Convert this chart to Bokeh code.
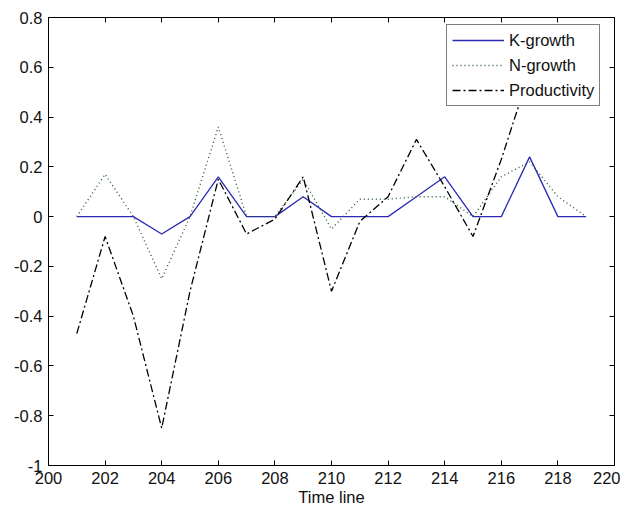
from bokeh.plotting import figure
from bokeh.models import (Range1d, LinearAxis, FixedTicker, Legend, LegendItem)
from bokeh.embed import file_html
from bokeh.resources import INLINE

# ---- data ----
years = [201, 202, 203, 204, 205, 206, 207, 208, 209, 210,
         211, 212, 213, 214, 215, 216, 217, 218, 219]
k_growth = [0.0, 0.0, 0.0, -0.07, 0.0, 0.16, 0.0, 0.0, 0.08, 0.0,
            0.0, 0.0, 0.08, 0.16, 0.0, 0.0, 0.24, 0.0, 0.0]
n_growth = [0.0, 0.17, 0.0, -0.25, 0.0, 0.36, 0.0, 0.0, 0.15, -0.05,
            0.07, 0.07, 0.08, 0.08, 0.0, 0.16, 0.22, 0.08, 0.0]
prod_years = [201, 202, 203, 204, 205, 206, 207, 208, 209, 210,
              211, 212, 213, 214, 215, 216, 217]
productivity = [-0.47, -0.08, -0.40, -0.85, -0.30, 0.15, -0.07, -0.01, 0.16, -0.30,
                -0.02, 0.08, 0.31, 0.12, -0.08, 0.23, 0.58]

x_ticks = [200, 202, 204, 206, 208, 210, 212, 214, 216, 218, 220]
x_tick_labels = ["200", "202", "204", "206", "208", "210", "212", "214", "216", "218", "220"]
y_ticks = [-1.0, -0.8, -0.6, -0.4, -0.2, 0.0, 0.2, 0.4, 0.6, 0.8]
y_tick_labels = ["-1", "-0.8", "-0.6", "-0.4", "-0.2", "0", "0.2", "0.4", "0.6", "0.8"]
series_names = ["K-growth", "N-growth", "Productivity"]
x_label = "Time line"

FONT = "Liberation Sans"
TICK_FS = "16.5px"

p = figure(width=620, height=512, output_backend="svg", toolbar_location=None,
           x_range=Range1d(200, 220), y_range=Range1d(-1, 0.8),
           min_border_left=48, min_border_right=6, min_border_top=17, min_border_bottom=47,
           x_axis_type=None, y_axis_type=None)
p.grid.visible = False
p.outline_line_color = "black"
p.outline_line_width = 1
p.background_fill_color = "white"
p.border_fill_color = "white"


def style_axis(ax, ticks, labels, show_labels):
    ax.ticker = FixedTicker(ticks=ticks)
    if show_labels:
        ax.major_label_overrides = {t: l for t, l in zip(ticks, labels)}
    else:
        ax.major_label_overrides = {t: "" for t in ticks}
    ax.major_tick_in = 5
    ax.major_tick_out = 0
    ax.minor_tick_line_color = None
    ax.axis_line_color = None
    ax.major_tick_line_color = "black"
    ax.major_label_text_font = FONT
    ax.major_label_text_font_size = TICK_FS
    ax.major_label_text_color = "#111111"


xb = LinearAxis()
style_axis(xb, x_ticks, x_tick_labels, True)
xb.major_label_standoff = 6
xb.axis_label = x_label
xb.axis_label_text_font = FONT
xb.axis_label_text_font_size = TICK_FS
xb.axis_label_text_font_style = "normal"
xb.axis_label_text_color = "#111111"
xb.axis_label_standoff = 1
p.add_layout(xb, "below")

yl = LinearAxis()
style_axis(yl, y_ticks, y_tick_labels, True)
yl.major_label_standoff = 6
p.add_layout(yl, "left")

xt = LinearAxis()
style_axis(xt, x_ticks, x_tick_labels, False)
xt.major_label_standoff = 0
p.add_layout(xt, "above")

yr = LinearAxis()
style_axis(yr, y_ticks, y_tick_labels, False)
yr.major_label_standoff = 0
p.add_layout(yr, "right")

r_k = p.line(years, k_growth, line_color="#2a2ab4", line_width=1.3)
r_n = p.line(years, n_growth, line_color="#2f5a2f", line_width=1.4, line_dash="1 3")
r_p = p.line(prod_years, productivity, line_color="black", line_width=1.3, line_dash="8 3 2 3")

legend = Legend(items=[LegendItem(label=series_names[0], renderers=[r_k]),
                       LegendItem(label=series_names[1], renderers=[r_n]),
                       LegendItem(label=series_names[2], renderers=[r_p])],
                location=(398, 359))
legend.label_text_font = FONT
legend.label_text_font_size = "16.5px"
legend.label_text_color = "#111111"
legend.glyph_width = 52
legend.glyph_height = 20
legend.label_height = 20
legend.label_standoff = 5
legend.spacing = 5
legend.padding = 5
legend.margin = 0
legend.border_line_color = "black"
legend.border_line_width = 1
legend.background_fill_color = "white"
legend.background_fill_alpha = 1.0
p.add_layout(legend, "center")

open("out.html", "w").write(file_html(p, INLINE))
